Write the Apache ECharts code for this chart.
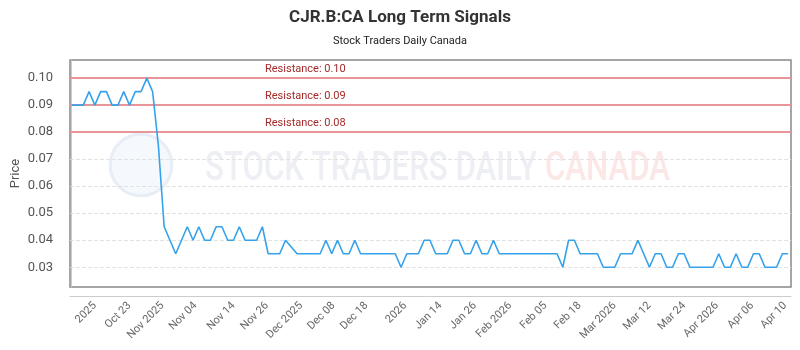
<!DOCTYPE html>
<html>
<head>
<meta charset="utf-8">
<script src="https://cdn.jsdelivr.net/npm/echarts@6/dist/echarts.min.js"></script>
<style>
html,body{margin:0;padding:0;background:#fff;}
#chart{width:800px;height:350px;}
</style>
</head>
<body>
<div id="chart"></div>
<script>
// CJR.B:CA daily closes, one per trading day (oldest first)
var prices = [
	0.09, 0.09, 0.09, 0.095, 0.09, 0.095, 0.095, 0.09, 0.09, 0.095,
	0.09, 0.095, 0.095, 0.10, 0.095, 0.075, 0.045, 0.04, 0.035, 0.04,
	0.045, 0.04, 0.045, 0.04, 0.04, 0.045, 0.045, 0.04, 0.04, 0.045,
	0.04, 0.04, 0.04, 0.045, 0.035, 0.035, 0.035, 0.04, 0.0375, 0.035,
	0.035, 0.035, 0.035, 0.035, 0.04, 0.035, 0.04, 0.035, 0.035, 0.04,
	0.035, 0.035, 0.035, 0.035, 0.035, 0.035, 0.035, 0.03, 0.035, 0.035,
	0.035, 0.04, 0.04, 0.035, 0.035, 0.035, 0.04, 0.04, 0.035, 0.035,
	0.04, 0.035, 0.035, 0.04, 0.035, 0.035, 0.035, 0.035, 0.035, 0.035,
	0.035, 0.035, 0.035, 0.035, 0.035, 0.03, 0.04, 0.04, 0.035, 0.035,
	0.035, 0.035, 0.03, 0.03, 0.03, 0.035, 0.035, 0.035, 0.04, 0.035,
	0.03, 0.035, 0.035, 0.03, 0.03, 0.035, 0.035, 0.03, 0.03, 0.03,
	0.03, 0.03, 0.035, 0.03, 0.03, 0.035, 0.03, 0.03, 0.035, 0.035,
	0.03, 0.03, 0.03, 0.035, 0.035
];
// x tick labels and the trading-day index they sit at
var xTickLabels = ['2025','Oct 23','Nov 2025','Nov 04','Nov 14','Nov 26','Dec 2025','Dec 08','Dec 18','2026',
	'Jan 14','Jan 26','Feb 2026','Feb 05','Feb 18','Mar 2026','Mar 12','Mar 24','Apr 2026','Apr 06','Apr 10'];
var xTickAt = [4, 10, 15.7, 21.4, 28, 33.8, 39.7, 45.3, 51, 57.7,
	63.8, 69.8, 75.9, 82, 87.9, 94, 100, 106, 111.7, 117.8, 123.5];
var yTicks = [0.03, 0.04, 0.05, 0.06, 0.07, 0.08, 0.09, 0.10];
var resistance = [0.10, 0.09, 0.08];

var lineData = [];
for (var i = 0; i < prices.length; i++) {
	lineData.push([i, prices[i]]);
}
var resLines = [];
for (var r = 0; r < resistance.length; r++) {
	resLines.push({ yAxis: resistance[r], label: { formatter: 'Resistance: ' + resistance[r].toFixed(2) } });
}

var myChart = echarts.init(document.getElementById('chart'));
var option = {
	backgroundColor: '#fff',
	animation: false,
	textStyle: { fontFamily: 'Roboto' },
	title: {
		text: 'CJR.B:CA Long Term Signals',
		subtext: 'Stock Traders Daily Canada',
		left: 'center',
		top: 4,
		itemGap: 10,
		textStyle: { fontSize: 17, fontWeight: 'bold', color: '#333', fontFamily: 'Roboto' },
		subtextStyle: { fontSize: 11, color: '#222', fontFamily: 'Roboto' }
	},
	// faint watermark behind the plot
	graphic: [
		{ type: 'circle', z: 0, shape: { cx: 141, cy: 165, r: 31 },
			style: { fill: 'rgba(222,232,244,0.3)', stroke: 'rgba(210,222,238,0.45)', lineWidth: 3 } },
		{ type: 'text', z: 0, x: 205, y: 150, scaleX: 0.78,
			style: { text: 'STOCK TRADERS DAILY', fill: 'rgba(212,218,228,0.42)', font: '500 40px Roboto' } },
		{ type: 'text', z: 0, x: 545, y: 150, scaleX: 0.78,
			style: { text: 'CANADA', fill: 'rgba(248,198,198,0.42)', font: '500 40px Roboto' } }
	],
	grid: {
		left: 70,
		right: 9,
		top: 60,
		bottom: 63,
		outerBoundsMode: 'none',
		containLabel: false,
		show: true,
		borderColor: '#888',
		borderWidth: 1.5,
		backgroundColor: 'transparent'
	},
	xAxis: {
		type: 'value',
		min: -0.3,
		max: 124.5,
		offset: 9,
		axisLine: { show: true, lineStyle: { color: '#ccc', width: 1 } },
		axisTick: { show: false, customValues: xTickAt },
		splitLine: { show: false },
		axisLabel: {
			customValues: xTickAt,
			rotate: 45,
			margin: 8,
			fontSize: 11,
			color: '#666',
			formatter: function (v) {
				for (var k = 0; k < xTickAt.length; k++) {
					if (Math.abs(xTickAt[k] - v) < 1e-6) return xTickLabels[k];
				}
				return '';
			}
		}
	},
	yAxis: {
		type: 'value',
		min: 0.0227,
		max: 0.1067,
		offset: 10,
		name: 'Price',
		nameLocation: 'middle',
		nameGap: 38,
		nameMoveOverlap: false,
		nameTextStyle: { fontSize: 13, color: '#555' },
		axisLine: { show: true, lineStyle: { color: '#ccc', width: 1 } },
		axisTick: { show: false, customValues: yTicks },
		splitLine: { show: true, lineStyle: { color: '#e2e2e2', type: 'dashed', width: 1 } },
		axisLabel: {
			customValues: yTicks,
			margin: 7,
			fontSize: 13,
			color: '#555',
			formatter: function (v) { return v.toFixed(2); }
		}
	},
	series: [{
		// resistance levels, drawn under the price line
		type: 'line',
		data: [],
		z: 1,
		markLine: {
			silent: true,
			z: 1,
			symbol: 'none',
			lineStyle: { color: '#e8959a', type: 'solid', width: 2 },
			label: {
				position: 'insideStartTop',
				distance: [195, 3],
				fontSize: 11,
				color: '#a52a2a'
			},
			data: resLines
		}
	}, {
		type: 'line',
		data: lineData,
		showSymbol: false,
		lineStyle: { color: '#36a2eb', width: 1.6 },
		itemStyle: { color: '#36a2eb' },
		z: 3
	}]
};
myChart.setOption(option);
</script>
</body>
</html>
